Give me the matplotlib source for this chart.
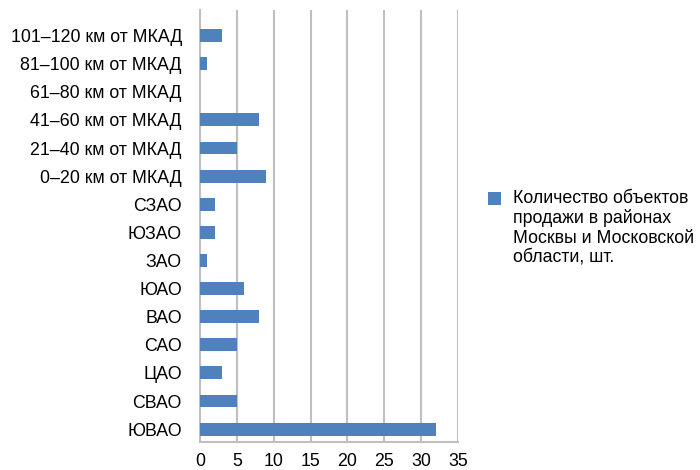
import matplotlib
matplotlib.use("Agg")
from matplotlib import pyplot as plt
from matplotlib.patches import Rectangle

plt.rcParams['font.family'] = ['Liberation Sans', 'DejaVu Sans']

# Районы снизу вверх и количество объектов
districts = ['ЮВАО', 'СВАО', 'ЦАО', 'САО', 'ВАО', 'ЮАО', 'ЗАО', 'ЮЗАО', 'СЗАО',
             '0–20 км от МКАД', '21–40 км от МКАД', '41–60 км от МКАД',
             '61–80 км от МКАД', '81–100 км от МКАД', '101–120 км от МКАД']
counts = [32, 5, 3, 5, 8, 6, 1, 2, 2, 9, 5, 8, 0, 1, 3]
x_ticks = [0, 5, 10, 15, 20, 25, 30, 35]
series_name = 'Количество объектов\nпродажи в районах\nМосквы и Московской\nобласти, шт.'

bar_color = '#4F81BD'
grid_color = '#BFBFBF'
W, H = 700, 470
fs = 12.8

fig = plt.figure(figsize=(7, 4.7), dpi=100)
ax = fig.add_axes([200/W, 1 - 441.5/H, 258/W, 431.5/H])

pos = range(len(districts))
ax.barh(pos, counts, height=0.46, color=bar_color, zorder=3)

ax.set_xlim(0, 35)
ax.set_ylim(-0.44, len(districts) - 0.09)
ax.set_xticks(x_ticks)
ax.set_yticks(list(pos))
ax.set_yticklabels(districts)
ax.tick_params(axis='both', length=0, labelsize=fs, colors='black')
ax.tick_params(axis='x', pad=8)
ax.tick_params(axis='y', pad=13)

ax.grid(axis='x', color=grid_color, linewidth=1.5, zorder=0)
for side in ['top', 'right']:
    ax.spines[side].set_visible(False)
for side in ['left', 'bottom']:
    ax.spines[side].set_color(grid_color)
    ax.spines[side].set_linewidth(1.5)

# легенда: квадрат у первой строки подписи
fig.add_artist(Rectangle((488/W, 1 - 205/H), 13/W, 13/H,
                         transform=fig.transFigure, facecolor=bar_color,
                         edgecolor='none'))
fig.text(513/W, 1 - 190/H, series_name, ha='left', va='top',
         fontsize=fs, linespacing=1.17)

fig.savefig('out.png', dpi=100)
